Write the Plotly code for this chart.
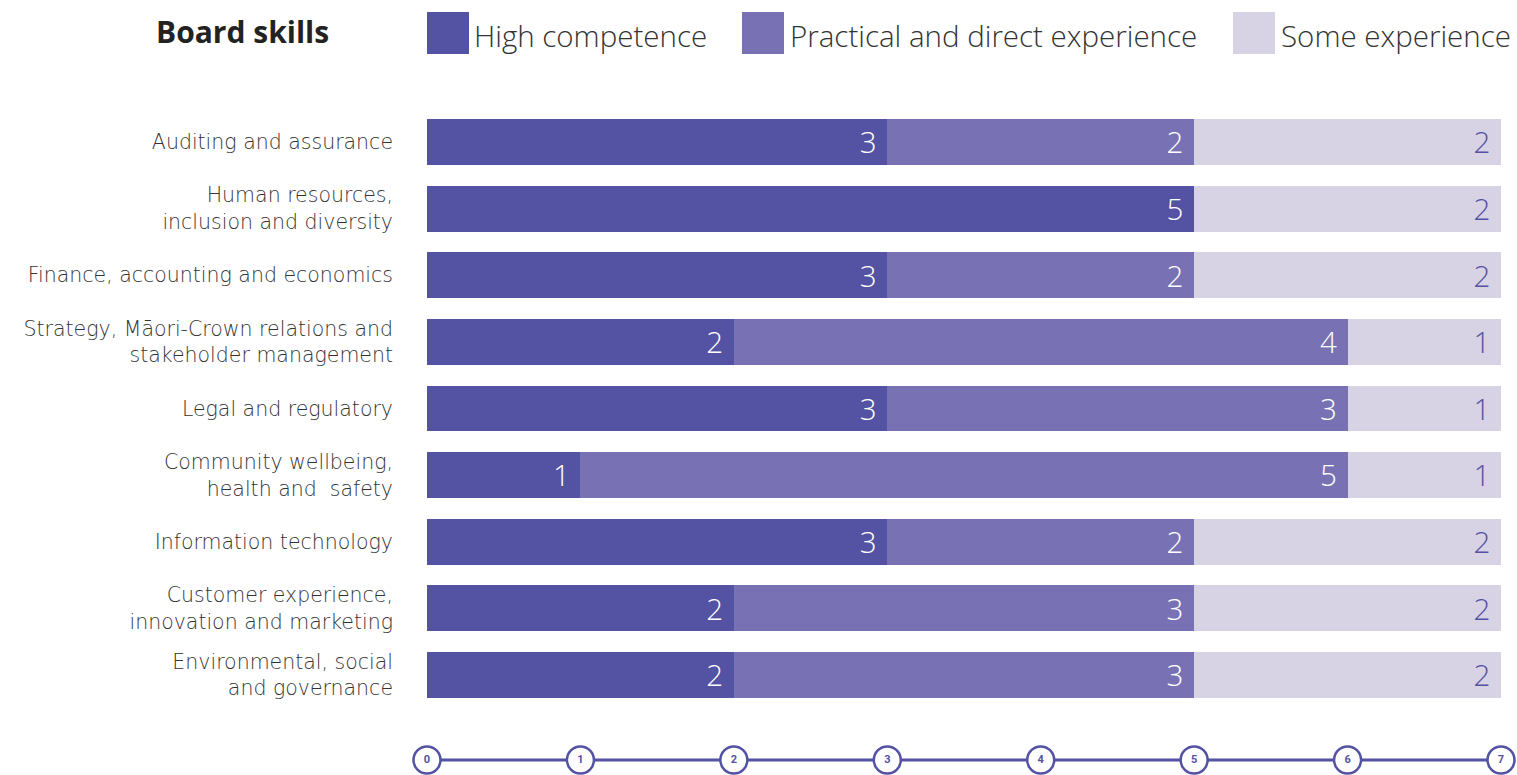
import plotly.graph_objects as go

categories = [
    "Auditing and assurance",
    "Human resources,<br>inclusion and diversity",
    "Finance, accounting and economics",
    "Strategy, Māori-Crown relations and<br>stakeholder management",
    "Legal and regulatory",
    "Community wellbeing,<br>health and  safety",
    "Information technology",
    "Customer experience,<br>innovation and marketing",
    "Environmental, social<br>and governance",
]
high_competence = [3, 5, 3, 2, 3, 1, 3, 2, 2]
practical_experience = [2, 0, 2, 4, 3, 5, 2, 3, 3]
some_experience = [2, 2, 2, 1, 1, 1, 2, 2, 2]
series_names = ["High competence", "Practical and direct experience", "Some experience"]
tick_values = [0, 1, 2, 3, 4, 5, 6, 7]

C_DARK = "#5352a3"
C_MED = "#7872b4"
C_LIGHT = "#d7d3e4"
colors = [C_DARK, C_MED, C_LIGHT]
text_colors = ["white", "white", C_DARK]

FONT = "Open Sans"
LABEL_FONT = "DejaVu Sans"
W, H = 1517, 775
ML, MR, MT, MB = 427, 16, 100, 5
PW = W - ML - MR
PH = H - MT - MB


def px_x(p):
    return (p - ML) / PW


def px_y(q):
    return (H - MB - q) / PH


fig = go.Figure()
for name, vals, col, tcol in zip(series_names,
                                 [high_competence, practical_experience, some_experience],
                                 colors, text_colors):
    fig.add_trace(go.Bar(
        y=categories, x=vals, orientation="h", name=name,
        marker=dict(color=col, line=dict(width=0)),
        text=[(str(v) + "\u00a0") if v else "" for v in vals],
        textposition="inside", insidetextanchor="end", textangle=0,
        textfont=dict(family=FONT, size=34, color=tcol, weight=300),
        showlegend=False, hoverinfo="x+y+name",
    ))

# bottom axis with circled ticks
fig.add_trace(go.Scatter(
    x=tick_values, y=[0] * len(tick_values), xaxis="x", yaxis="y2",
    mode="lines+markers+text",
    line=dict(color=C_DARK, width=3),
    marker=dict(size=27, color="white", line=dict(color=C_DARK, width=2.5), symbol="circle"),
    text=[str(t) for t in tick_values], textposition="middle center",
    textfont=dict(family="Roboto", size=11, color=C_DARK, weight=700),
    showlegend=False, hoverinfo="skip", cliponaxis=False,
))

shapes = []
annotations = []
# legend squares + labels
leg = [(427, 469, 472), (742, 784, 788), (1233, 1275, 1279)]
for (x0, x1, tx), name, col in zip(leg, series_names, colors):
    shapes.append(dict(type="rect", xref="paper", yref="paper",
                       x0=px_x(x0), x1=px_x(x1), y0=px_y(54), y1=px_y(12),
                       fillcolor=col, line=dict(width=0)))
    annotations.append(dict(xref="paper", yref="paper", x=px_x(tx), y=px_y(35),
                            text=name, showarrow=False, xanchor="left", yanchor="middle",
                            font=dict(family=FONT, size=29.5, color="#333333", weight=300)))
annotations.append(dict(xref="paper", yref="paper", x=px_x(154), y=px_y(31),
                        text="<b>Board skills</b>", showarrow=False, xanchor="left",
                        yanchor="middle",
                        font=dict(family=FONT, size=30, color="#222222")))

bar_top = 108.7
bar_bot = 708.3
fig.update_layout(
    width=W, height=H,
    margin=dict(l=ML, r=MR, t=MT, b=MB),
    barmode="stack", bargap=0.31,
    plot_bgcolor="white", paper_bgcolor="white",
    xaxis=dict(range=[0, 7], showgrid=False, zeroline=False, showticklabels=False,
               showline=False, fixedrange=True),
    yaxis=dict(domain=[px_y(bar_bot), px_y(bar_top)], autorange="reversed",
               showgrid=False, zeroline=False, ticks="", ticklabelstandoff=33,
               tickfont=dict(family=LABEL_FONT, size=20.5, color="#333333", weight=200)),
    yaxis2=dict(domain=[0, px_y(750)], range=[-1, 1], showgrid=False, zeroline=False,
                showticklabels=False, fixedrange=True),
    shapes=shapes, annotations=annotations,
    font=dict(family=FONT),
)

fig.write_html("out.html", config={"displayModeBar": False},
               post_script="document.body.style.margin='0';document.body.style.overflow='hidden';")
